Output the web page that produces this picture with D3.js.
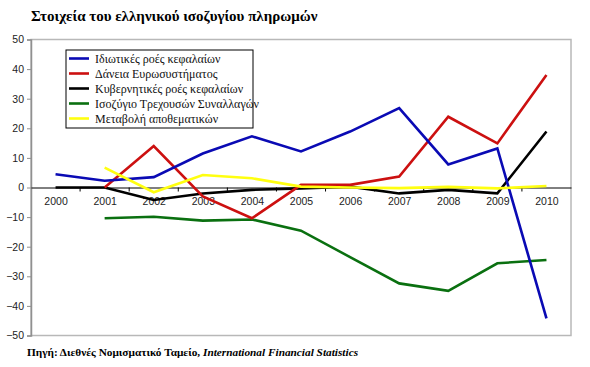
<!DOCTYPE html>
<html><head><meta charset="utf-8">
<script src="https://cdn.jsdelivr.net/npm/d3@7"></script>
<style>body{margin:0;background:#fff}svg{display:block}</style>
</head><body>
<script>
const years = ["2000","2001","2002","2003","2004","2005","2006","2007","2008","2009","2010"];
const yTicks = [50,40,30,20,10,0,-10,-20,-30,-40,-50];
const privateFlows = [4.5,2.3,3.5,11.5,17.3,12.2,18.9,26.8,7.8,13.2,-44.2];
const eurosystemLoans = [null,0,14,-3,-10.4,0.9,0.9,3.7,23.9,14.9,38];
const governmentFlows = [0,0,-4.2,-2,-0.8,-0.3,0.3,-2,-0.8,-2,18.9];
const currentAccount = [null,-10.4,-9.9,-11.2,-10.8,-14.6,-23.5,-32.4,-34.9,-25.6,-24.5];
const reserveChange = [null,6.7,-1.6,4.2,3.1,0.3,0,-0.2,0.2,-0.3,0.5];
const seriesNames = ["Ιδιωτικές ροές κεφαλαίων","Δάνεια Ευρωσυστήματος","Κυβερνητικές ροές κεφαλαίων","Ισοζύγιο Τρεχουσών Συναλλαγών","Μεταβολή αποθεματικών"];
const seriesValues = [privateFlows, eurosystemLoans, governmentFlows, currentAccount, reserveChange];
const seriesColors = ["#0a0ab4","#cc1010","#000000","#0a7010","#ffff10"];
const title = "Στοιχεία του ελληνικού ισοζυγίου πληρωμών";

const W = 590, H = 367;
const svg = d3.select("body").append("svg").attr("width", W).attr("height", H);
const L = 31, R = 571, T = 39.5, B = 335.5;
const x = d3.scalePoint().domain(years).range([L, R]).padding(0.5);
const y = d3.scaleLinear().domain([-50, 50]).range([B, T]);

// plot border
svg.append("rect").attr("x", L).attr("y", T).attr("width", R - L).attr("height", B - T)
  .attr("fill", "#fff").attr("stroke", "#b8b8b8").attr("stroke-width", 1.5);

// y axis
const ya = svg.append("g").attr("transform", `translate(${L},0)`)
  .call(d3.axisLeft(y).tickValues(yTicks).tickSize(4).tickPadding(3));
ya.select(".domain").attr("stroke", "#909090").attr("stroke-width", 1.5);
ya.selectAll(".tick line").attr("stroke", "#909090");
ya.selectAll("text").attr("font-family", "Liberation Sans, Arial, sans-serif").attr("font-size", 10.5).attr("fill", "#222");

// x axis at zero
const step = x.step();
const xa = svg.append("g").attr("transform", `translate(0,${y(0)})`)
  .call(d3.axisBottom(x).tickSize(0).tickPadding(10));
xa.select(".domain").attr("stroke", "#000").attr("stroke-width", 1);
xa.selectAll("text").attr("font-family", "Liberation Sans, Arial, sans-serif").attr("font-size", 10.5).attr("fill", "#222");
xa.selectAll(".bt").data(d3.range(1, years.length)).enter().append("line")
  .attr("x1", i => L + i * step).attr("x2", i => L + i * step)
  .attr("y1", 0).attr("y2", 4).attr("stroke", "#000");

// lines
const line = d3.line().defined(d => d != null)
  .x((d, i) => x(years[i])).y(d => y(d));
const order = [3, 2, 1, 0, 4];
order.forEach(k => {
  svg.append("path").datum(seriesValues[k]).attr("d", line)
    .attr("fill", "none").attr("stroke", seriesColors[k]).attr("stroke-width", 2.6)
    .attr("stroke-linejoin", "miter");
});

// legend
const lg = svg.append("g");
lg.append("rect").attr("x", 66).attr("y", 50).attr("width", 187).attr("height", 78)
  .attr("fill", "#fff").attr("stroke", "#000").attr("stroke-width", 1);
seriesNames.forEach((n, i) => {
  const yy = 58.5 + i * 15;
  lg.append("line").attr("x1", 69).attr("x2", 89).attr("y1", yy).attr("y2", yy)
    .attr("stroke", seriesColors[i]).attr("stroke-width", 2.6);
  lg.append("text").attr("x", 95).attr("y", yy + 4).text(n)
    .attr("font-family", "Liberation Serif, Times New Roman, serif").attr("font-size", 12).attr("fill", "#111");
});

// title
svg.append("text").attr("x", 31).attr("y", 21).text(title)
  .attr("font-family", "Liberation Serif, Times New Roman, serif").attr("font-weight", "bold")
  .attr("font-size", 15).attr("fill", "#000");

// source
const src = svg.append("text").attr("x", 27).attr("y", 356)
  .attr("font-family", "Liberation Serif, Times New Roman, serif").attr("font-weight", "bold")
  .attr("font-size", 11.3).attr("fill", "#000");
src.append("tspan").text("Πηγή: Διεθνές Νομισματικό Ταμείο, ");
src.append("tspan").attr("font-style", "italic").text("International Financial Statistics");
</script>
</body></html>
